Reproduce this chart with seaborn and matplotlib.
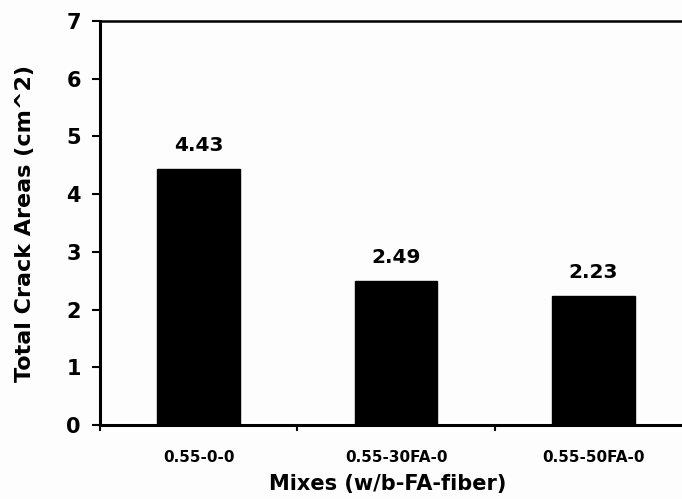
import matplotlib
matplotlib.use("Agg")
import matplotlib.pyplot as plt
import seaborn as sns
import pandas as pd

# Crack area per mix design
mixes = ["0.55-0-0", "0.55-30FA-0", "0.55-50FA-0"]
crack_areas = [4.43, 2.49, 2.23]
y_ticks = [0, 1, 2, 3, 4, 5, 6, 7]

df = pd.DataFrame({"mix": mixes, "area": crack_areas})

sns.set_theme(style="white")
plt.rcParams["font.family"] = ["DejaVu Sans"]
plt.rcParams["font.weight"] = "bold"
plt.rcParams["text.color"] = "black"
plt.rcParams["axes.labelcolor"] = "black"
plt.rcParams["xtick.color"] = "black"
plt.rcParams["ytick.color"] = "black"

fig = plt.figure(figsize=(6.82, 4.99), dpi=100)
fig.patch.set_facecolor("#fdfdfd")
ax = fig.add_axes([0.147, 0.148, 0.853, 0.810])
ax.set_facecolor("#fdfdfd")

sns.barplot(data=df, x="mix", y="area", color="black", width=0.42,
            saturation=1, ax=ax, edgecolor="black")

ax.set_ylim(0, 7)
ax.set_xlim(-0.49, 2.45)
ax.set_yticks(y_ticks)
ax.set_yticklabels([str(t) for t in y_ticks], fontsize=15, fontweight="bold",
                   color="black")

ax.set_xticks(range(len(mixes)))
ax.set_xticklabels(mixes, fontsize=11, fontweight="bold", color="black")
ax.set_xticks([-0.5, 0.5, 1.5], minor=True)
ax.tick_params(axis="x", which="major", length=0, pad=18)
ax.tick_params(axis="x", which="minor", length=4, width=1.5, color="black",
               direction="out", bottom=True)
ax.tick_params(axis="y", which="major", length=6, width=1.5, color="black",
               direction="out", left=True, pad=8)

for side in ["left", "bottom"]:
    ax.spines[side].set_linewidth(2.2)
    ax.spines[side].set_color("black")
ax.spines["top"].set_linewidth(1.8)
ax.spines["top"].set_color("black")
ax.spines["right"].set_visible(False)

for i, v in enumerate(crack_areas):
    ax.annotate(f"{v:.2f}", xy=(i, v), xytext=(0, 10), textcoords="offset points",
                ha="center", va="bottom", fontsize=14.5, fontweight="bold",
                color="black")

ax.set_ylabel("Total Crack Areas (cm^2)", fontsize=16, fontweight="bold",
              color="black")
ax.yaxis.set_label_coords(-75 / 582, 0.5)
ax.yaxis.label.set_va("center")
ax.set_xlabel("Mixes (w/b-FA-fiber)", fontsize=15, fontweight="bold",
              color="black")
ax.xaxis.label.set_va("center")
ax.xaxis.set_label_coords((388 - 100) / 582, (425 - 484) / 404)

fig.savefig("out.png", dpi=100, facecolor=fig.get_facecolor())
